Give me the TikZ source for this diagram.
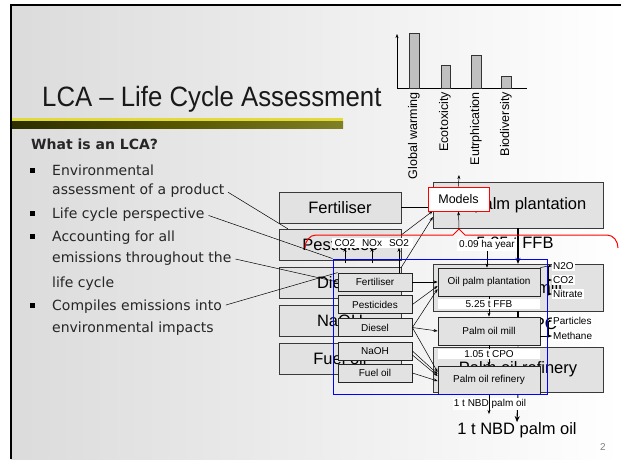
\documentclass[tikz,border=0pt]{standalone}
\usepackage{fontspec}
\setmainfont{Liberation Sans}
\newfontfamily\tahoma{DejaVu Sans}
\usetikzlibrary{arrows.meta,positioning}
\newcommand{\fsz}[1]{\fontsize{#1}{#1}\selectfont}
\definecolor{boxgray}{HTML}{E2E2E2}
\definecolor{bargray}{HTML}{C0C0C0}
\definecolor{bordgray}{HTML}{3A3A3A}
\definecolor{baryellow}{HTML}{E2DA3A}

\begin{document}
\begin{tikzpicture}[x=1pt, y=-1pt, >={Stealth[length=4pt,width=3pt]},
  bigbox/.style={draw=bordgray, fill=boxgray, minimum width=122pt, minimum height=31pt, font=\fsz{16.5}, inner sep=0pt},
  bigflow/.style={bigbox, minimum width=170pt, minimum height=46pt},
  smallbox/.style={draw=black!85, line width=0.8pt, fill=boxgray, minimum width=74pt, minimum height=18pt, font=\fsz{10}, inner sep=0pt},
  smallflow/.style={smallbox, minimum width=102pt, minimum height=28pt},
  flowlabel/.style={fill=white, minimum width=102pt, minimum height=10pt, inner sep=0pt, font=\fsz{10}},
  emis/.style={fill=white, inner sep=1pt, font=\fsz{10}},
  link/.style={black, line width=0.5pt},
  arr/.style={link, ->},
  bigarr/.style={black, line width=1.1pt, -{Stealth[length=6pt,width=5pt]}},
  bulletline/.style={font=\tahoma\fsz{14}, text=black!85, anchor=base west, inner sep=0pt},
  sq/.style={fill=black, minimum size=5pt, inner sep=0pt},
  chartlbl/.style={rotate=90, anchor=east, inner sep=0pt, font=\fsz{12.5}}]
  \useasboundingbox (0,0) rectangle (621,459);
  % slide background
  \fill[white] (0,0) rectangle (621,459);
  \shade[left color=gray!28, right color=white] (11,5) rectangle (621,459);
  \draw[black, line width=2.5pt] (11,459) -- (11,5) -- (621,5);
  % title
  \node[anchor=base west, inner sep=0pt, font=\fsz{28}, text=black!90] (title) at (42,106) {\scalebox{0.92}[1]{LCA -- Life Cycle Assessment}};
  \fill[baryellow] (12,118) rectangle (343,121.5);
  \shade[left color=black!65!olive, right color=olive!35!gray] (12,121.5) rectangle (343,128);
  % impact chart
  \draw[link, ->] (397,88) -- (397,34);
  \draw[link] (397,88) -- (527,88);
  \draw[draw=black!80, fill=bargray] (409,88) rectangle (419,33);
  \draw[draw=black!80, fill=bargray] (441,88) rectangle (450,65);
  \draw[draw=black!80, fill=bargray] (471,88) rectangle (481,55);
  \draw[draw=black!80, fill=bargray] (501,88) rectangle (511,76);
  \node[chartlbl] (gw) at (414,92) {Global warming};
  \node[chartlbl] (eco) at (445,92) {Ecotoxicity};
  \node[chartlbl] (eut) at (476,92) {Eutrphication};
  \node[chartlbl] (bio) at (506,92) {Biodiversity};
  % bullet list
  \node[bulletline, font=\tahoma\bfseries\fsz{14}] (what) at (31,149) {What is an LCA?};
  \node[sq] (sq1) at (32,170) {};
  \node[sq] (sq2) at (32,213) {};
  \node[sq] (sq3) at (32,236) {};
  \node[sq] (sq4) at (32,305) {};
  \node[bulletline] (bl1) at (52,175) {Environmental};
  \node[bulletline] (bl2) at (52,194) {assessment of a product};
  \node[bulletline] (bl3) at (52,218) {Life cycle perspective};
  \node[bulletline] (bl4) at (52,241) {Accounting for all};
  \node[bulletline] (bl5) at (52,262) {emissions throughout the};
  \node[bulletline] (bl6) at (52,287) {life cycle};
  \node[bulletline] (bl7) at (52,310) {Compiles emissions into};
  \node[bulletline] (bl8) at (52,332) {environmental impacts};
  % large flow chart (behind)
  \node[bigbox] (bFert) at (340,207.5) {Fertiliser};
  \node[bigbox] (bPest) at (340,244.5) {Pesticides};
  \node[bigbox] (bDiesel) at (340,282.5) {Diesel};
  \node[bigbox] (bNaOH) at (340,321) {NaOH};
  \node[bigbox] (bFuel) at (340,358.5) {Fuel oil};
  \node[bigflow] (bPlant) at (518,205) {Oil palm plantation};
  \node[font=\fsz{16.5}, inner sep=0pt] (bFFB) at (515,243) {5.25 t FFB};
  \node[bigflow, minimum height=47pt] (bMill) at (518,287.5) {Palm oil mill};
  \node[font=\fsz{16.5}, inner sep=0pt] (bCPO) at (517,324) {1.05 t CPO};
  \node[bigflow, minimum height=45pt] (bRef) at (518,369.5) {Palm oil refinery};
  \node[font=\fsz{16.5}, inner sep=0pt] (bNBD) at (517,430) {1 t NBD palm oil};
  \draw[arr] (bFert.east) -- (bFert.east -| bPlant.west);
  \draw[arr] ([yshift=9.5pt]bPest.east) -- ([yshift=-6pt]bPlant.west);
  \draw[arr] ([yshift=15pt]bDiesel.east) -- ([yshift=-12pt]bPlant.west);
  \draw[bigarr] (bPlant.south) -- (bMill.north);
  \draw[bigarr] (bMill.south) -- (bRef.north);
  \draw[bigarr] (bRef.south) -- (bNBD.north);
  % small flow chart
  \node[smallbox] (sFert) at (375,282) {Fertiliser};
  \node[smallbox] (sPest) at (375,304.5) {Pesticides};
  \node[smallbox] (sDiesel) at (375,327.5) {Diesel};
  \node[smallbox] (sNaOH) at (375,351) {NaOH};
  \node[smallbox] (sFuel) at (375,373) {Fuel oil};
  \node[smallflow] (sPlant) at (489,282) {Oil palm plantation};
  \node[smallflow] (sMill) at (489,331) {Palm oil mill};
  \node[smallflow] (sRef) at (489,380) {Palm oil refinery};
  \draw[arr] (sFert) -- (sPlant);
  \draw[arr] (sPest.east) -- ([yshift=-4pt]sPlant.west);
  \draw[arr] (sDiesel.east) -- ([yshift=-7pt]sPlant.west);
  \draw[arr] (sDiesel.east) -- (sMill.west);
  \draw[arr] (sDiesel.east) -- ([yshift=8pt]sRef.west);
  \draw[arr] (sNaOH.east) -- ([yshift=6pt]sRef.west);
  \draw[arr] ([yshift=-4pt]sNaOH.east) -- ([yshift=4pt]sRef.west);
  \draw[arr] (sFuel.east) -- ([yshift=-1pt]sRef.west);
  \draw[arr] (sPlant.south) -- (sMill.north);
  \draw[arr] (sMill.south) -- (sRef.north);
  \node[flowlabel] (sFFB) at (489,304) {5.25 t FFB};
  \node[flowlabel] (sCPO) at (489,354) {1.05 t CPO};
  \node[font=\fsz{10}, fill=white, inner sep=1pt] (sNBD) at (490,404) {1 t NBD palm oil};
  \coordinate (nbdend) at (489,414);
  \draw[arr] (sRef.south) -- (nbdend);
  \node[fill=white, inner xsep=2pt, inner ysep=0pt, minimum height=12pt, font=\fsz{10}] (ha) at (487,245) {0.09 ha year};
  \draw[arr] (ha.south) -- (ha.south |- sPlant.north);
  % emissions
  \node[emis, minimum width=27pt] (co2a) at (345,243) {CO2};
  \node[emis, minimum width=27pt] (nox) at (372,243) {NOx};
  \node[emis, minimum width=27pt] (so2) at (399,243) {SO2};
  \coordinate (co2src) at (345,263);
  \coordinate (noxsrc) at (372,263);
  \draw[arr] (co2src) -- (co2a.south);
  \draw[arr] (noxsrc) -- (nox.south);
  \draw[arr] (sFert.north -| so2) -- (so2.south);
  \node[emis, anchor=west] (n2o) at (552,266) {N2O};
  \node[emis, anchor=west] (co2b) at (552,280) {CO2};
  \node[emis, anchor=west] (nitrate) at (552,294) {Nitrate};
  \node[emis, anchor=west] (part) at (552,321) {Particles};
  \node[emis, anchor=west] (meth) at (552,336) {Methane};
  \coordinate (brx) at (548,0);
  \draw[arr] (sPlant.north east) -- (brx |- n2o) -- (n2o.west);
  \draw[arr] (brx |- n2o) -- (brx |- nitrate) -- (nitrate.west);
  \draw[arr] (brx |- co2b) -- (co2b.west);
  \draw[arr] (sMill.east |- meth) -- (meth.west);
  \draw[arr] (brx |- meth) -- (brx |- part) -- (part.west);
  % frame round the small chart
  \node[draw=blue, line width=0.9pt, minimum width=214pt, minimum height=135pt, inner sep=0pt] (frame) at (440,326.5) {};
  % lines from the bullets
  \draw[link, shorten <=4pt] (bl2.east) -- ([xshift=9pt]bPest.north west);
  \draw[link, shorten <=4pt] (bl3.east) -- (frame.north west);
  \draw[link, shorten <=4pt] (bl5.east) -- (sFert.west);
  \draw[link, shorten <=4pt] (bl7.east) -- (sFert.north west);
  % models and impacts
  \node[draw=red, line width=1pt, fill=white, minimum width=61pt, minimum height=24pt, font=\fsz{12.5}, inner sep=0pt] (models) at (458.5,199) {Models};
  \coordinate (chartin) at (459,175);
  \coordinate (peak) at (459,229);
  \draw[arr] (models.north) -- (chartin);
  \draw[arr] (peak) -- (models.south);
  \draw[red, line width=1pt] (305,248) to[out=90, in=180] (316,235) -- (453,235) -- (peak) -- (465,235) -- (607,235) to[out=0, in=90] (618,248);
  % page number
  \node[text=gray, font=\fsz{10}] (pagenum) at (603,447) {2};
\end{tikzpicture}
\end{document}
